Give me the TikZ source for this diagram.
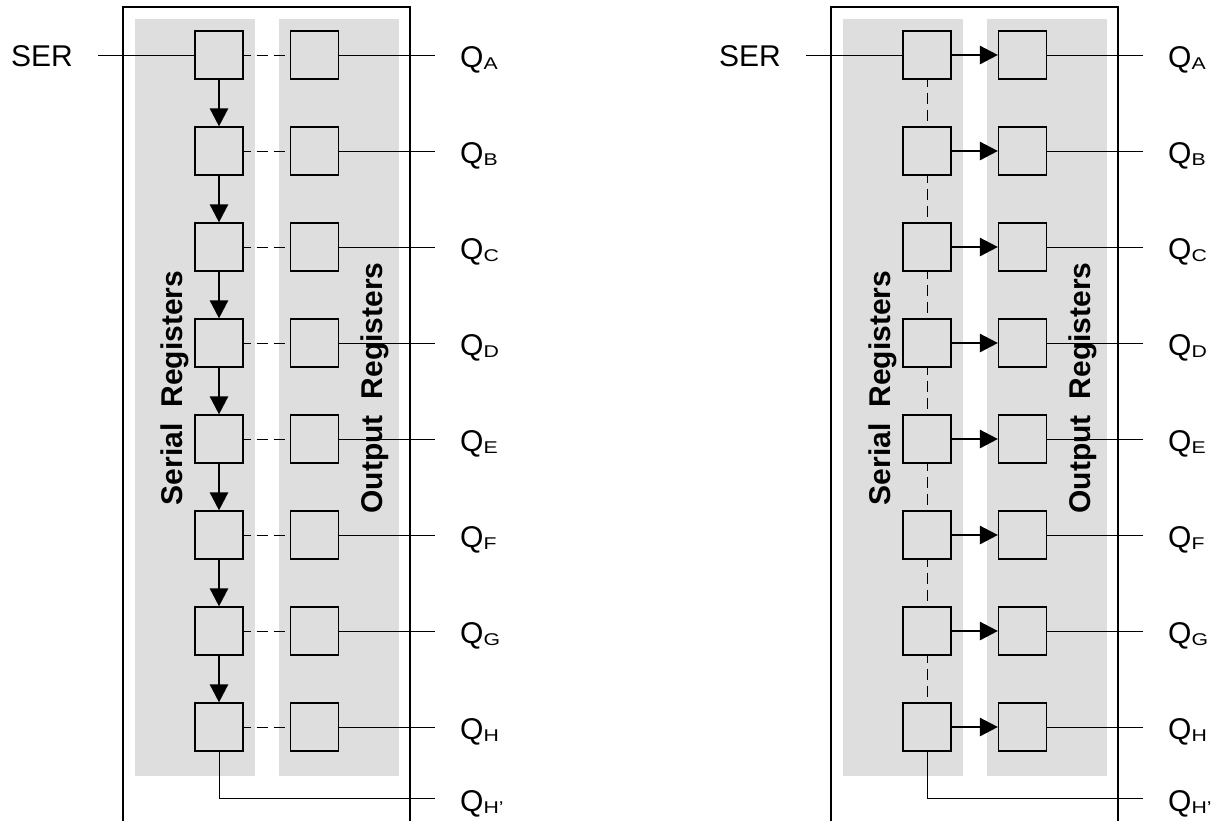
\documentclass[tikz,border=0pt]{standalone}
\usepackage{fontspec}
\setmainfont{Liberation Sans}
\usetikzlibrary{arrows.meta}
\definecolor{panel}{HTML}{DEDEDE}
\newcommand{\qsub}[1]{Q\raisebox{-2pt}{\scalebox{1.25}[1]{\fontsize{17}{17}\selectfont #1}}}
\tikzset{
  reg/.style={draw, line width=1.2pt, minimum size=48pt, inner sep=0pt},
  wire/.style={line width=1pt},
  shiftarrow/.style={line width=2.6pt, -{Triangle[length=18pt,width=18pt]}},
  link/.style={line width=1pt, dash pattern=on 11pt off 6pt, dash phase=4pt},
  lab/.style={font=\fontsize{30}{36}\selectfont, inner sep=0pt},
  vlab/.style={font=\bfseries\fontsize{30}{36}\selectfont, rotate=90, inner sep=0pt, anchor=base},
  frame/.style={line width=2.8pt},
}
\begin{document}
\begin{tikzpicture}[x=1pt,y=-1pt]
\useasboundingbox (0,0) rectangle (1214,820);
\clip (0,0) rectangle (1214,820);
\foreach \d/\sh/\mode in {L/0/0, R/708/1} {
  \begin{scope}[xshift=\sh pt]
    \fill[panel] (135,19) rectangle (255,776);
    \fill[panel] (279,19) rectangle (399,776);
    \draw[frame] (123,7) rectangle (410,850);
    \node[vlab] (\d sl) at (182.5,388) {Serial\hspace{16pt}Registers};
    \node[vlab] (\d ol) at (382,388) {Output\hspace{16pt}Registers};
    \foreach \i in {1,...,8} {
      \pgfmathsetmacro\yy{55+96*(\i-1)}
      \node[reg] (\d s\i) at (219,\yy) {};
      \node[reg] (\d o\i) at (314.5,\yy) {};
      \coordinate (\d e\i) at (435,\yy);
      \draw[wire] (\d o\i.east) -- (\d e\i);
    }
    \foreach \i/\q in {1/A,2/B,3/C,4/D,5/E,6/F,7/G,8/H} {
      \pgfmathsetmacro\yb{67+96*(\i-1)}
      \node[lab, anchor=base west] (\d q\i) at (460,\yb) {\qsub{\q}};
    }
    % SER input
    \node[lab, anchor=base east] (\d ser) at (73,66) {SER};
    \coordinate (\d serin) at (98,55);
    \draw[wire] (\d serin) -- (\d s1.west);
    % QH' output
    \coordinate (\d hc) at (219,798);
    \coordinate (\d he) at (435,798);
    \draw[wire] (\d s8.south) -- (\d hc) -- (\d he);
    \node[lab, anchor=base west] (\d qh) at (460,811) {\qsub{H'}};
    \ifnum\mode=0
      \foreach \i in {1,...,8} {
        \draw[link] (\d s\i.east) -- (\d o\i.west);
      }
      \foreach \i [evaluate=\i as \j using int(\i+1)] in {1,...,7} {
        \draw[shiftarrow] (\d s\i.south) -- (\d s\j.north);
      }
    \else
      \foreach \i in {1,...,8} {
        \draw[shiftarrow] (\d s\i.east) -- (\d o\i.west);
      }
      \foreach \i [evaluate=\i as \j using int(\i+1)] in {1,...,7} {
        \draw[link] (\d s\i.south) -- (\d s\j.north);
      }
    \fi
  \end{scope}
}
\end{tikzpicture}
\end{document}
